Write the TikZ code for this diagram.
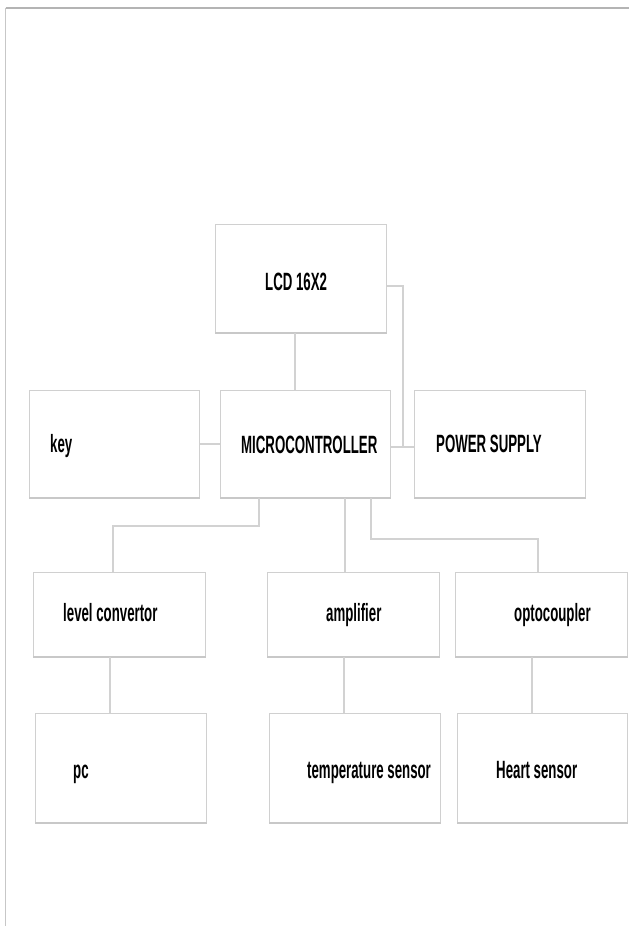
\documentclass[tikz,border=0pt]{standalone}
\usepackage{fontspec}
\setmainfont{Liberation Sans}
\usetikzlibrary{calc}
\definecolor{boxgray}{HTML}{D0D0D0}
\definecolor{shadegray}{HTML}{C8C8C8}
\definecolor{wiregray}{HTML}{D2D2D2}
\definecolor{framegray}{HTML}{B4B4B4}
\newcommand{\sqz}[1]{\scalebox{0.53}[1]{#1}}
\tikzset{
  blockbox/.style={draw=boxgray, line width=1.1pt, fill=white, inner sep=0pt, anchor=north west},
  blockshade/.style={draw=shadegray, line width=2pt},
  wire/.style={draw=wiregray, line width=1.1pt},
  lbl/.style={anchor=base west, inner sep=0pt, font=\fontsize{25}{30}\selectfont\bfseries, text=black},
  frame/.style={draw=framegray, line width=1.8pt},
  framel/.style={draw=black!22, line width=0.9pt}
}
\begin{document}
\begin{tikzpicture}[x=1pt,y=1pt]
\useasboundingbox (0,0) rectangle (629,-926);
\fill[white] (0,0) rectangle (629,-926);
% frame lines
\coordinate (ftl) at (5.5,-8);
\coordinate (ftr) at (629,-8);
\coordinate (fbl) at (5.5,-926);
\draw[frame] (ftl) -- (ftr);
\draw[framel] (ftl) -- (fbl);

% boxes
\node[blockbox, minimum width=171pt, minimum height=108pt] (lcd) at (215,-224) {};
\node[blockbox, minimum width=170pt, minimum height=107pt] (key) at (29,-390) {};
\node[blockbox, minimum width=170pt, minimum height=107pt] (mcu) at (220,-390) {};
\node[blockbox, minimum width=171pt, minimum height=107pt] (pwr) at (414,-390) {};
\node[blockbox, minimum width=172pt, minimum height=84pt] (lvl) at (33,-572) {};
\node[blockbox, minimum width=172pt, minimum height=84pt] (amp) at (267,-572) {};
\node[blockbox, minimum width=172pt, minimum height=84pt] (opt) at (455,-572) {};
\node[blockbox, minimum width=171pt, minimum height=109pt] (pc) at (35,-713) {};
\node[blockbox, minimum width=171pt, minimum height=109pt] (tmp) at (269,-713) {};
\node[blockbox, minimum width=170pt, minimum height=109pt] (hrt) at (457,-713) {};
\foreach \b in {lcd,key,mcu,pwr,lvl,amp,opt,pc,tmp,hrt}{
  \draw[blockshade] ($(\b.south west)+(0,0.6)$) -- ($(\b.south east)+(0,0.6)$);
}

% labels
\node[lbl] (lcdT) at (265,-290) {\sqz{LCD 16X2}};
\node[lbl] (keyT) at (50,-452) {\sqz{key}};
\node[lbl] (mcuT) at (241,-453) {\sqz{MICROCONTROLLER}};
\node[lbl] (pwrT) at (436,-452) {\sqz{POWER SUPPLY}};
\node[lbl] (lvlT) at (63,-621) {\sqz{level convertor}};
\node[lbl] (ampT) at (326,-621) {\sqz{amplifier}};
\node[lbl] (optT) at (514,-621) {\sqz{optocoupler}};
\node[lbl] (pcT) at (73,-778) {\sqz{pc}};
\node[lbl] (tmpT) at (307,-778) {\sqz{temperature sensor}};
\node[lbl] (hrtT) at (496,-778) {\sqz{Heart sensor}};

% connector guide coordinates
\coordinate (xa) at (295,0);
\coordinate (ya) at (0,-444);
\coordinate (yb) at (0,-447);
\coordinate (yc) at (0,-286);
\coordinate (xc) at (403,0);
\coordinate (xd) at (259,0);
\coordinate (yd) at (0,-526);
\coordinate (xe) at (113,0);
\coordinate (xf) at (345,0);
\coordinate (xg) at (371,0);
\coordinate (yg) at (0,-539);
\coordinate (xh) at (538,0);
\coordinate (xi) at (110,0);
\coordinate (xj) at (344,0);
\coordinate (xk) at (532,0);

% connectors
\draw[wire] (xa |- lcd.south) -- (xa |- mcu.north);
\draw[wire] (key.east |- ya) -- (mcu.west |- ya);
\draw[wire] (mcu.east |- yb) -- (pwr.west |- yb);
\draw[wire] (lcd.east |- yc) -- (xc |- yc) -- (xc |- yb);
\draw[wire] (xd |- mcu.south) -- (xd |- yd) -- (xe |- yd) -- (xe |- lvl.north);
\draw[wire] (xf |- mcu.south) -- (xf |- amp.north);
\draw[wire] (xg |- mcu.south) -- (xg |- yg) -- (xh |- yg) -- (xh |- opt.north);
\draw[wire] (xi |- lvl.south) -- (xi |- pc.north);
\draw[wire] (xj |- amp.south) -- (xj |- tmp.north);
\draw[wire] (xk |- opt.south) -- (xk |- hrt.north);
\end{tikzpicture}
\end{document}
